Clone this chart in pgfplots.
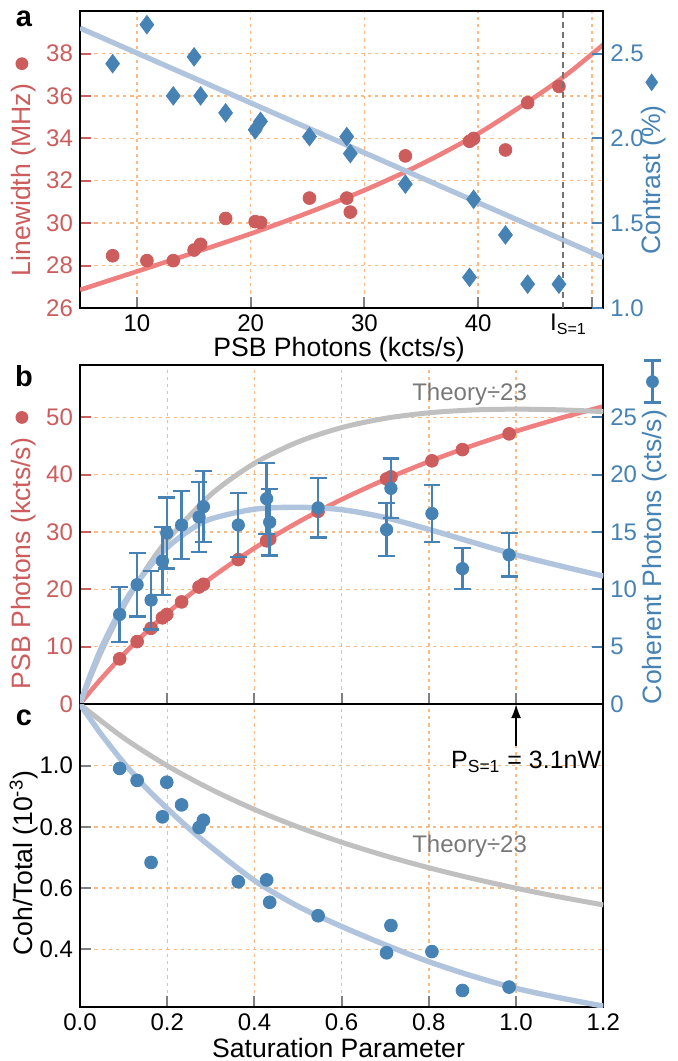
\documentclass[border=0pt]{standalone}
\usepackage{pgfplots}
\pgfplotsset{compat=1.18}
\usepackage{pgfplotstable}
\usepackage{fontspec}
\setmainfont{Liberation Sans}
\usetikzlibrary{arrows.meta}

\definecolor{redpt}{RGB}{205,92,92}
\definecolor{redfit}{RGB}{240,128,128}
\definecolor{bluept}{RGB}{70,130,180}
\definecolor{bluefit}{RGB}{176,196,222}
\definecolor{grayfit}{RGB}{192,192,192}
\definecolor{graytxt}{RGB}{120,120,120}
\definecolor{gridc}{RGB}{252,185,130}

\pgfplotstableread{
psb lw con
7.87 28.46 2.44
10.88 28.23 2.67
13.2 28.23 2.25
15.03 28.73 2.48
15.6 29.0 2.25
17.8 30.22 2.15
20.4 30.07 2.05
20.87 30.03 2.10
25.17 31.18 2.01
28.45 31.18 2.01
28.76 30.52 1.91
33.6 33.17 1.73
39.24 33.86 1.18
39.6 33.99 1.64
42.4 33.45 1.43
44.35 35.68 1.14
47.1 36.45 1.14
}\dataA

\pgfplotstableread{
s psb coh err ratio
0.091 7.87 7.81 2.4 0.991
0.131 10.88 10.4 2.78 0.952
0.163 13.2 9.06 2.56 0.684
0.189 15.03 12.46 2.95 0.833
0.199 15.6 14.9 3.1 0.946
0.233 17.8 15.6 2.95 0.872
0.273 20.4 16.3 3.05 0.798
0.283 20.87 17.2 3.1 0.822
0.363 25.17 15.6 2.8 0.621
0.428 28.45 17.9 3.1 0.627
0.435 28.76 15.85 2.9 0.554
0.546 33.6 17.1 2.6 0.510
0.703 39.24 15.2 2.3 0.389
0.713 39.6 18.8 2.6 0.478
0.807 42.4 16.6 2.5 0.393
0.877 44.35 11.8 1.8 0.266
0.984 47.1 13.0 1.9 0.277
}\dataB

\pgfplotsset{
  myax/.style={scale only axis, width=261.65pt,
    tick align=inside, major tick length=5.5pt,
    tick label style={font=\fontsize{12}{14}\selectfont},
    xticklabel style={inner sep=1pt, yshift=-2pt},
    label style={font=\fontsize{13.3}{16}\selectfont, inner sep=1pt},
    /pgf/number format/assume math mode=true,
    axis line style={line width=1pt},
    every tick/.append style={line width=1pt},
    grid style={gridc, line width=0.7pt, dash pattern=on 1.6pt off 2pt},
  },
}

\newcommand\reddot{\tikz[baseline={(0pt,-4.5pt)}]\fill[redpt] (0,0) circle (3.2pt);}
\newcommand\bluediam{\tikz[baseline={(0pt,-4.5pt)}]\fill[bluept] (-4.5pt,0)--(0,3.2pt)--(4.5pt,0)--(0,-3.2pt)--cycle;}
\newcommand\blueerr{\tikz[baseline={(0pt,-4.5pt)}]{\draw[bluept,line width=1.2pt] (-10.5pt,0)--(10.5pt,0) (-10.5pt,-4.2pt)--(-10.5pt,4.2pt) (10.5pt,-4.2pt)--(10.5pt,4.2pt); \fill[bluept] (0,0) circle (3.2pt);}}

\begin{document}
\begin{tikzpicture}
\useasboundingbox (0,0) rectangle (339pt,-530.5pt);

% ---------------- panel a, left axis
\begin{axis}[myax, at={(40pt,-153.95pt)}, anchor=south west, height=148.4pt,
  xmin=5, xmax=51, ymin=26, ymax=40,
  xtick={10,20,30,40,50}, xticklabels={10,20,30,40,{}},
  extra x ticks={47.5}, extra x tick labels={I\textsubscript{S=1}},
  extra x tick style={major tick length=0pt, grid=none, xticklabel style={xshift=2.5pt}},
  ytick={26,28,30,32,34,36,38}, xtick pos=bottom, ytick pos=left, grid=major,
  yticklabel style={text=redpt}, ytick style={draw=redpt},
  xlabel={PSB Photons (kcts/s)},
  xlabel style={at={(axis description cs:0.495,-0.141)}, anchor=center},
  ylabel={Linewidth (MHz)\hspace{7pt}\reddot},
  ylabel style={text=redpt, at={(axis description cs:-0.107,0.4756)}, anchor=center},
]
\addplot[redfit, line width=2.3pt, smooth] coordinates {(5,26.85) (10,27.72) (15,28.6) (20,29.5) (25,30.48) (30,31.55) (35,32.78) (40,34.22) (45,35.95) (48,37.1) (51,38.42)};
\addplot[only marks, mark=*, mark size=3.2pt, redpt] table[x=psb, y=lw] {\dataA};
\end{axis}

% ---------------- panel a, right axis
\begin{axis}[myax, at={(40pt,-153.95pt)}, anchor=south west, height=148.4pt,
  xmin=5, xmax=51, ymin=1, ymax=2.75,
  axis x line=none, axis y line*=right,
  ytick={1,1.5,2,2.5},
  yticklabel style={text=bluept, /pgf/number format/fixed, /pgf/number format/fixed zerofill, /pgf/number format/precision=1},
  ytick style={draw=bluept},
  ylabel={Contrast (\%)\hspace{7pt}\bluediam},
  ylabel style={text=bluept, at={(axis description cs:1.0965,0.485)}, anchor=center},
]
\addplot[bluefit, line width=2.6pt] coordinates {(5,2.65) (51,1.297)};
\addplot[only marks, mark=diamond*, mark size=4.6pt, bluept] table[x=psb, y=con] {\dataA};
\addplot[gray!90!black, line width=1pt, dash pattern=on 3pt off 2pt] coordinates {(47.5,1) (47.5,2.75)};
\end{axis}

% ---------------- panel b, left axis
\begin{axis}[myax, at={(40pt,-352pt)}, anchor=south west, height=169.5pt,
  xmin=0, xmax=1.2, ymin=0, ymax=59.1,
  xtick={0,0.2,0.4,0.6,0.8,1.0,1.2}, xticklabels={{},{},{},{},{},{},{}},
  ytick={0,10,20,30,40,50}, xtick pos=bottom, ytick pos=left, grid=major,
  yticklabel style={text=redpt}, ytick style={draw=redpt},
  ylabel={PSB Photons (kcts/s)\hspace{7pt}\reddot},
  ylabel style={text=redpt, at={(axis description cs:-0.107,0.454)}, anchor=center},
]
\addplot[redfit, line width=2.3pt, smooth] coordinates {(0,0) (0.02,1.865) (0.05,4.53) (0.1,8.645) (0.15,12.40) (0.2,15.85) (0.3,21.95) (0.4,27.17) (0.5,31.70) (0.6,35.66) (0.7,39.16) (0.8,42.27) (0.9,45.05) (1.0,47.55) (1.1,49.81) (1.2,51.87)};
\addplot[only marks, mark=*, mark size=3.2pt, redpt] table[x=s, y=psb] {\dataB};
\end{axis}

% ---------------- panel b, right axis
\begin{axis}[myax, at={(40pt,-352pt)}, anchor=south west, height=169.5pt,
  xmin=0, xmax=1.2, ymin=0, ymax=29.55,
  axis x line=none, axis y line*=right,
  ytick={0,5,10,15,20,25},
  yticklabel style={text=bluept}, ytick style={draw=bluept},
  ylabel={Coherent Photons (cts/s)\hspace{3pt}\blueerr},
  ylabel style={text=bluept, at={(axis description cs:1.098,0.508)}, anchor=center},
]
\addplot[grayfit, line width=2.5pt, smooth] coordinates {(0,0) (0.02,1.976) (0.05,4.662) (0.1,8.496) (0.15,11.66) (0.2,14.278) (0.3,18.249) (0.4,20.98) (0.5,22.844) (0.6,24.094) (0.7,24.9) (0.8,25.383) (0.9,25.629) (1.0,25.7) (1.1,25.642) (1.2,25.488)};
\addplot[bluefit, line width=2.7pt, smooth] coordinates {(0,0) (0.02,2.16) (0.05,4.98) (0.1,8.73) (0.15,11.53) (0.2,13.63) (0.25,15.12) (0.3,16.13) (0.4,16.98) (0.5,17.15) (0.6,16.94) (0.7,16.25) (0.8,15.22) (0.9,14.1) (1.0,13.0) (1.1,12.05) (1.2,11.15)};
\addplot[only marks, mark=*, mark size=3.1pt, bluept,
  error bars/.cd, y dir=both, y explicit,
  error bar style={line width=1.2pt, bluept},
  error mark=-,
  error mark options={rotate=90, mark size=4.2pt, line width=1.2pt, bluept}]
  table[x=s, y=coh, y error=err] {\dataB};
\end{axis}

% ---------------- panel c
\begin{axis}[myax, at={(40pt,-503.65pt)}, anchor=south west, height=151.65pt,
  xmin=0, xmax=1.2, ymin=0.211, ymax=1.2014,
  xtick={0,0.2,0.4,0.6,0.8,1.0,1.2}, ytick={0.4,0.6,0.8,1.0},
  xtick pos=bottom, ytick pos=left, grid=major,
  xticklabel style={/pgf/number format/fixed, /pgf/number format/fixed zerofill, /pgf/number format/precision=1},
  yticklabel style={/pgf/number format/fixed, /pgf/number format/fixed zerofill, /pgf/number format/precision=1},
  xlabel={Saturation Parameter},
  xlabel style={at={(axis description cs:0.494,-0.134)}, anchor=center},
  ylabel={Coh/Total (10\textsuperscript{-3})},
  ylabel style={at={(axis description cs:-0.107,0.476)}, anchor=center},
]
\addplot[grayfit, line width=2.5pt, smooth] coordinates {(0,1.2) (0.1,1.0909) (0.2,1.0) (0.3,0.9231) (0.4,0.8571) (0.5,0.8) (0.6,0.75) (0.7,0.7059) (0.8,0.6667) (0.9,0.6316) (1.0,0.6) (1.1,0.5714) (1.2,0.5455)};
\addplot[bluefit, line width=2.7pt, smooth] coordinates {(0,1.2) (0.02,1.16) (0.05,1.1) (0.1,1.01) (0.15,0.93) (0.2,0.86) (0.25,0.795) (0.3,0.735) (0.4,0.625) (0.5,0.541) (0.6,0.475) (0.7,0.415) (0.8,0.36) (0.9,0.313) (1.0,0.273) (1.1,0.242) (1.2,0.215)};
\addplot[only marks, mark=*, mark size=3.2pt, bluept] table[x=s, y=ratio] {\dataB};
\draw[black, line width=1pt, -{Latex[length=7pt,width=5pt]}] (axis cs:1.0,1.065) -- (axis cs:1.0,1.2014);
\end{axis}

% ---------------- annotations
\node[font=\fontsize{14.5}{16}\selectfont\bfseries, anchor=base] at (12pt,-13.3pt) {a};
\node[font=\fontsize{14.5}{16}\selectfont\bfseries, anchor=base] at (12pt,-193.3pt) {b};
\node[font=\fontsize{14.5}{16}\selectfont\bfseries, anchor=base] at (12pt,-362.5pt) {c};
\node[font=\fontsize{12}{14}\selectfont, text=graytxt, anchor=base] at (234.8pt,-200.3pt) {Theory÷23};
\node[font=\fontsize{12}{14}\selectfont, text=graytxt, anchor=base] at (234.8pt,-426pt) {Theory÷23};
\node[font=\fontsize{12.5}{14}\selectfont, anchor=base east, inner sep=0pt] at (300.8pt,-384.2pt) {P\textsubscript{S=1} = 3.1nW};
\end{tikzpicture}
\end{document}
